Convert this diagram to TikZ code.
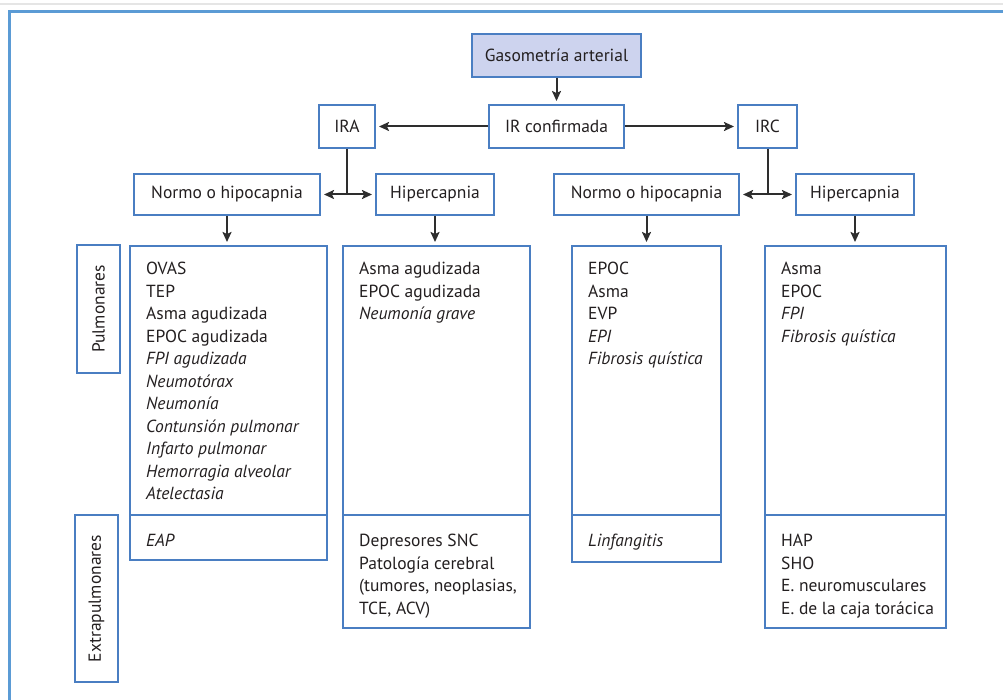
\documentclass[tikz,border=0pt]{standalone}
\usepackage{fontspec}
\setmainfont{PT Sans}
\usetikzlibrary{arrows.meta}
\definecolor{bblue}{HTML}{4A7EC2}
\definecolor{fblue}{HTML}{5B9BD5}
\definecolor{hfill}{HTML}{CDD3EE}
\definecolor{tcol}{HTML}{231F20}
\definecolor{arrc}{HTML}{2E2E2E}
\tikzset{
  box/.style={draw=bblue, line width=2pt, inner sep=0pt, text=tcol, font=\fontsize{17.5}{20}\selectfont},
  arr/.style={draw=arrc, line width=2pt, -{Stealth[length=10pt,width=9pt,inset=2pt]}, shorten >=3pt},
  plain/.style={draw=arrc, line width=2pt},
  divl/.style={draw=bblue, line width=2pt},
  listtxt/.style={anchor=north west, align=left, inner sep=0pt, text=tcol, font=\fontsize{17.5}{22.5}\selectfont},
}
\newcommand{\fst}{\rule{0pt}{14pt}}
\begin{document}
\begin{tikzpicture}[x=1pt,y=-1pt]
\useasboundingbox (0,0) rectangle (1003,700);
% page frame
\draw[gray!20, line width=1.2pt] (0,4) -- (1003,4);
\draw[fblue, line width=3pt] (9,700) -- (9,12) -- (1003,12);

% top boxes
\node[box, fill=hfill, minimum width=169, minimum height=43] (gas) at (556.5,55.5) {Gasometría arterial};
\node[box, minimum width=135, minimum height=43] (irc) at (556.5,126.5) {IR confirmada};
\node[box, minimum width=56, minimum height=43] (ira) at (347,126.5) {IRA};
\node[box, minimum width=59, minimum height=43] (ircr) at (767.5,126.5) {IRC};
\node[box, minimum width=186, minimum height=41] (n1) at (227,194.5) {Normo o hipocapnia};
\node[box, minimum width=118, minimum height=41] (h1) at (435,194.5) {Hipercapnia};
\node[box, minimum width=185, minimum height=41] (n2) at (646.5,194.5) {Normo o hipocapnia};
\node[box, minimum width=118, minimum height=41] (h2) at (855,194.5) {Hipercapnia};

% list boxes
\node[box, minimum width=197, minimum height=314] (L1) at (228.5,403) {};
\node[box, minimum width=187, minimum height=382] (L2) at (436.5,437) {};
\node[box, minimum width=149, minimum height=316] (L3) at (646.5,404) {};
\node[box, minimum width=181, minimum height=382] (L4) at (855.5,437) {};
\draw[divl] (L1.west |- 0,515) -- (L1.east |- 0,515);
\draw[divl] (L2.west |- 0,515) -- (L2.east |- 0,515);
\draw[divl] (L3.west |- 0,515) -- (L3.east |- 0,515);
\draw[divl] (L4.west |- 0,515) -- (L4.east |- 0,515);

% side labels
\node[box, rotate=90, minimum width=128, minimum height=43] (pul) at (98.5,309) {Pulmonares};
\node[box, rotate=90, minimum width=167, minimum height=43] (ext) at (96.5,598.5) {Extrapulmonares};

% list texts
\node[listtxt] (t1a) at (146,260.5) {\fst OVAS\\TEP\\Asma agudizada\\EPOC agudizada\\\textit{FPI agudizada}\\\textit{Neumotórax}\\\textit{Neumonía}\\\textit{Contunsión pulmonar}\\\textit{Infarto pulmonar}\\\textit{Hemorragia alveolar}\\\textit{Atelectasia}};
\node[listtxt] (t1b) at (146,532.5) {\fst\textit{EAP}};
\node[listtxt] (t2a) at (359,260.5) {\fst Asma agudizada\\EPOC agudizada\\\textit{Neumonía grave}};
\node[listtxt] (t2b) at (359,532.5) {\fst Depresores SNC\\Patología cerebral\\(tumores, neoplasias,\\TCE, ACV)};
\node[listtxt] (t3a) at (588,260.5) {\fst EPOC\\Asma\\EVP\\\textit{EPI}\\\textit{Fibrosis quística}};
\node[listtxt] (t3b) at (588,532.5) {\fst\textit{Linfangitis}};
\node[listtxt] (t4a) at (781,260.5) {\fst Asma\\EPOC\\\textit{FPI}\\\textit{Fibrosis quística}};
\node[listtxt] (t4b) at (781,532.5) {\fst HAP\\SHO\\E. neuromusculares\\E. de la caja torácica};

% connectors
\draw[arr] (gas.south) -- (irc.north);
\draw[arr] (irc.west) -- (ira.east);
\draw[arr] (irc.east) -- (ircr.west);
\coordinate (j1) at (ira.south |- n1.east);
\coordinate (j2) at (ircr.south |- n2.east);
\draw[plain] (ira.south) -- (j1);
\draw[arr] (j1) -- (n1.east);
\draw[arr] (j1) -- (h1.west);
\draw[plain] (ircr.south) -- (j2);
\draw[arr] (j2) -- (n2.east);
\draw[arr] (j2) -- (h2.west);
\draw[arr] (n1.south) -- (n1.south |- L1.north);
\draw[arr] (h1.south) -- (h1.south |- L2.north);
\draw[arr] (n2.south) -- (n2.south |- L3.north);
\draw[arr] (h2.south) -- (h2.south |- L4.north);
\end{tikzpicture}
\end{document}
